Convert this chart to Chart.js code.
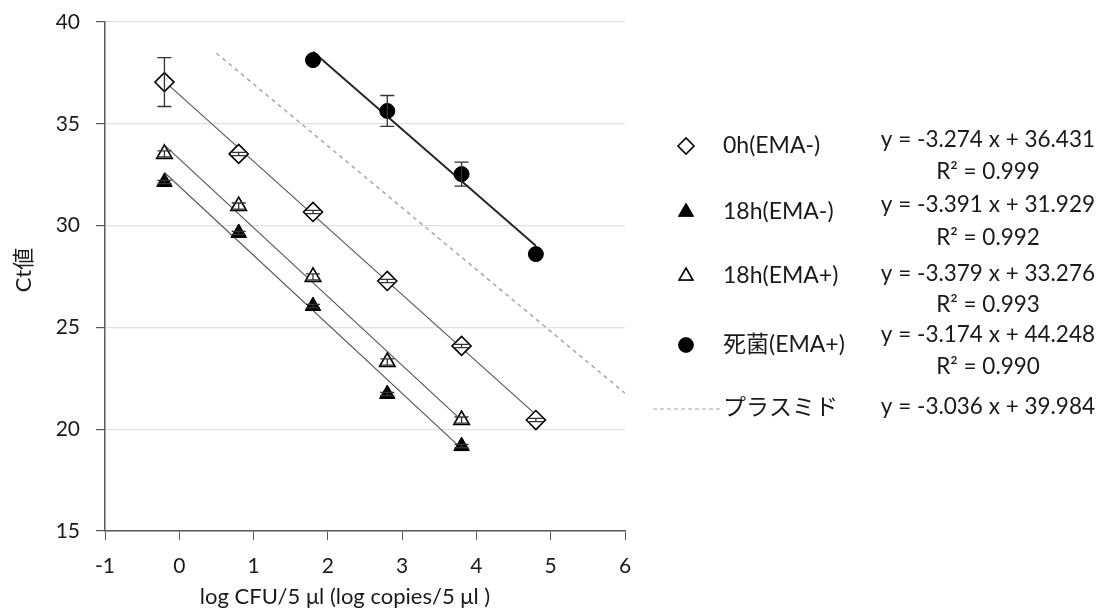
<!DOCTYPE html>
<html>
<head>
<meta charset="utf-8">
<script src="https://cdn.jsdelivr.net/npm/chart.js@4.4.1/dist/chart.umd.min.js"></script>
<style>
  html, body { margin: 0; padding: 0; background: #fff; }
  #wrap { width: 1103px; height: 610px; position: relative; }
</style>
</head>
<body>
<div id="wrap"><canvas id="ctChart"></canvas></div>
<script>
// data
const xTicksMin = -1, xTicksMax = 6;
const yTicksMin = 15, yTicksMax = 40;

const x0h = [-0.2, 0.8, 1.8, 2.8, 3.8, 4.8];
const ct0h = [37.05, 33.52, 30.67, 27.28, 24.09, 20.45];
const err0h = [1.2, 0.08, 0.08, 0.08, 0.08, 0.08];

const x18h = [-0.2, 0.8, 1.8, 2.8, 3.8];
const ct18hMinus = [32.14, 29.64, 26.05, 21.73, 19.17];
const err18hMinus = [0.08, 0.08, 0.08, 0.08, 0.08];
const ct18hPlus = [33.52, 30.96, 27.48, 23.30, 20.45];
const err18hPlus = [0.15, 0.15, 0.15, 0.15, 0.15];

const xDead = [1.8, 2.8, 3.8, 4.8];
const ctDead = [38.13, 35.63, 32.53, 28.60];
const errDead = [0, 0.76, 0.59, 0];

// regression lines (slope, intercept, x range)
const fitSlopes = [-3.274, -3.391, -3.379, -3.174, -3.036];
const fitIntercepts = [36.431, 31.929, 33.276, 44.248, 39.984];
const fitFrom = [-0.2, -0.2, -0.2, 1.8, 0.5];
const fitTo = [4.8, 3.8, 3.8, 4.8, 6];

const legendLabels = ["0h(EMA-)", "18h(EMA-)", "18h(EMA+)", "死菌(EMA+)", "プラスミド"];
const legendEquations = ["y = -3.274 x + 36.431", "y = -3.391 x + 31.929", "y = -3.379 x + 33.276", "y = -3.174 x + 44.248", "y = -3.036 x + 39.984"];
const legendR2 = ["0.999", "0.992", "0.993", "0.990", ""];

const FONT = "Lato, 'Noto Sans CJK JP', sans-serif";
const TXT = "#1a1a1a";

function pts(xs, ys) { return xs.map((x, i) => ({ x: x, y: ys[i] })); }
function fitLine(i) {
  return [
    { x: fitFrom[i], y: fitSlopes[i] * fitFrom[i] + fitIntercepts[i] },
    { x: fitTo[i], y: fitSlopes[i] * fitTo[i] + fitIntercepts[i] }
  ];
}

const markerSets = [
  { label: legendLabels[0], data: pts(x0h, ct0h), err: err0h, pointStyle: "rectRot", pointRadius: 9.5, pointBackgroundColor: "#fff", pointBorderColor: "#000", pointBorderWidth: 1.6 },
  { label: legendLabels[1], data: pts(x18h, ct18hMinus), err: err18hMinus, pointStyle: "triangle", pointRadius: 9, pointBackgroundColor: "#000", pointBorderColor: "#000", pointBorderWidth: 1 },
  { label: legendLabels[2], data: pts(x18h, ct18hPlus), err: err18hPlus, pointStyle: "triangle", pointRadius: 9, pointBackgroundColor: "#fff", pointBorderColor: "#000", pointBorderWidth: 1.6 },
  { label: legendLabels[3], data: pts(xDead, ctDead), err: errDead, pointStyle: "circle", pointRadius: 7.5, pointBackgroundColor: "#000", pointBorderColor: "#000", pointBorderWidth: 1 }
];

const lineStyles = [
  { borderColor: "#595959", borderWidth: 1.2, borderDash: [] },
  { borderColor: "#595959", borderWidth: 1.2, borderDash: [] },
  { borderColor: "#595959", borderWidth: 1.2, borderDash: [] },
  { borderColor: "#262626", borderWidth: 2, borderDash: [] },
  { borderColor: "#a6a6a6", borderWidth: 1.5, borderDash: [4, 4] }
];

const datasets = [];
lineStyles.forEach((s, i) => {
  datasets.push(Object.assign({ data: fitLine(i), showLine: true, pointRadius: 0, order: 2, fill: false }, s));
});
markerSets.forEach(m => {
  datasets.push(Object.assign({ showLine: false, order: 1 }, m));
});

// error bars on top of the markers
const errorBars = {
  id: "errorBars",
  afterDatasetsDraw(chart) {
    const ctx = chart.ctx;
    const xs = chart.scales.x, ys = chart.scales.y;
    ctx.save();
    ctx.strokeStyle = "#333";
    ctx.lineWidth = 1.3;
    chart.data.datasets.forEach(ds => {
      if (!ds.err) return;
      ds.data.forEach((p, i) => {
        const e = ds.err[i];
        if (!e) return;
        const px = xs.getPixelForValue(p.x);
        const top = ys.getPixelForValue(p.y + e);
        const bot = ys.getPixelForValue(p.y - e);
        ctx.beginPath();
        ctx.moveTo(px, top); ctx.lineTo(px, bot);
        ctx.moveTo(px - 7, top); ctx.lineTo(px + 7, top);
        ctx.moveTo(px - 7, bot); ctx.lineTo(px + 7, bot);
        ctx.stroke();
      });
    });
    ctx.restore();
  }
};

// axis titles and the legend with equations
const decorations = {
  id: "decorations",
  afterDraw(chart) {
    const ctx = chart.ctx;
    ctx.save();
    ctx.fillStyle = TXT;
    ctx.font = "22px " + FONT;
    ctx.textAlign = "center";
    ctx.textBaseline = "middle";
    ctx.fillText("log CFU/5 \u03bcl (log copies/5 \u03bcl )", 345, 597);
    ctx.save();
    ctx.translate(24, 270);
    ctx.rotate(-Math.PI / 2);
    ctx.fillText("Ct値", 0, 0);
    ctx.restore();

    const rowY = [146, 212, 276, 345, 408];
    const eqY = [140, 205, 274, 335, 407];
    const r2Y = [172, 238, 305, 367];
    markerSets.forEach((m, i) => {
      Chart.helpers.drawPoint(ctx, {
        pointStyle: m.pointStyle, radius: m.pointStyle === "circle" ? 7 : 8, rotation: 0, borderWidth: m.pointBorderWidth
      }, 686, rowY[i]);
      ctx.fillStyle = m.pointBackgroundColor;
      ctx.strokeStyle = m.pointBorderColor;
      ctx.lineWidth = m.pointBorderWidth;
      ctx.fill();
      ctx.stroke();
    });
    ctx.strokeStyle = "#a6a6a6";
    ctx.lineWidth = 1;
    ctx.setLineDash([4, 3]);
    ctx.beginPath(); ctx.moveTo(653, 409); ctx.lineTo(720, 409); ctx.stroke();
    ctx.setLineDash([]);

    ctx.fillStyle = TXT;
    ctx.font = "23px " + FONT;
    ctx.textAlign = "left";
    legendLabels.forEach((t, i) => ctx.fillText(t, 723, rowY[i]));
    ctx.font = "22.5px " + FONT;
    ctx.textAlign = "right";
    legendEquations.forEach((t, i) => ctx.fillText(t, 1095, eqY[i]));
    ctx.textAlign = "center";
    legendR2.forEach((t, i) => { if (t) ctx.fillText("R\u00b2 = " + t, 988, r2Y[i]); });
    ctx.restore();
  }
};

new Chart(document.getElementById("ctChart"), {
  type: "scatter",
  data: { datasets: datasets },
  options: {
    responsive: true,
    maintainAspectRatio: false,
    animation: false,
    layout: { padding: { top: 22, right: 478, left: 0, bottom: 0 } },
    plugins: { legend: { display: false }, tooltip: { enabled: false } },
    scales: {
      x: {
        type: "linear",
        min: xTicksMin,
        max: xTicksMax,
        ticks: { stepSize: 1, color: TXT, font: { family: FONT, size: 21 }, padding: 14 },
        grid: { drawOnChartArea: false, drawTicks: true, tickLength: 9, tickColor: "#595959" },
        border: { color: "#595959", width: 1.5 },
        afterFit(s) { s.height = 79; s.paddingLeft = 0; s.paddingRight = 0; }
      },
      y: {
        min: yTicksMin,
        max: yTicksMax,
        ticks: { stepSize: 5, color: TXT, font: { family: FONT, size: 21 }, padding: 16 },
        grid: { color: "#e0e0e0", lineWidth: 1.2, tickLength: 9, tickColor: "#595959" },
        border: { color: "#595959", width: 1.5 },
        afterFit(s) { s.width = 105; s.paddingTop = 0; s.paddingBottom = 0; }
      }
    }
  },
  plugins: [errorBars, decorations]
});
</script>
</body>
</html>
